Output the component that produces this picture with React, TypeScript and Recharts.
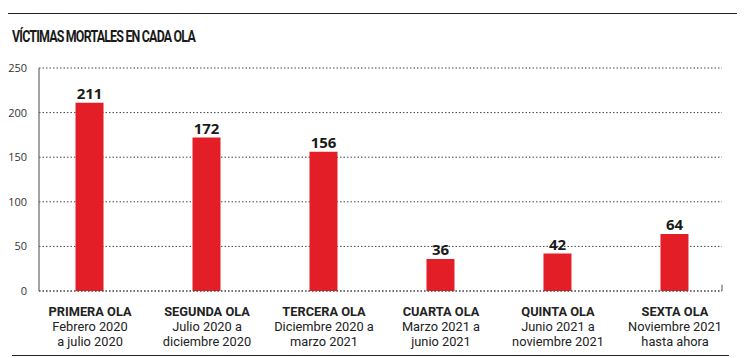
import { BarChart, Bar, XAxis, YAxis, CartesianGrid, LabelList, ReferenceLine } from 'recharts'

const waves = ['PRIMERA OLA', 'SEGUNDA OLA', 'TERCERA OLA', 'CUARTA OLA', 'QUINTA OLA', 'SEXTA OLA']
const periodLine1 = ['Febrero 2020', 'Julio 2020 a', 'Diciembre 2020 a', 'Marzo 2021 a', 'Junio 2021 a', 'Noviembre 2021']
const periodLine2 = ['a julio 2020', 'diciembre 2020', 'marzo 2021', 'junio 2021', 'noviembre 2021', 'hasta ahora']
const deaths = [211, 172, 156, 36, 42, 64]
const yTicks = [0, 50, 100, 150, 200, 250]

const data = waves.map((w, i) => ({ idx: i, wave: w, deaths: deaths[i] }))

const FONT = '"Open Sans", "Noto Sans", sans-serif'
const LABEL_FONT = 'Roboto, "Open Sans", sans-serif'
const X_MIN = -0.436
const X_MAX = 5.402

function WaveTick(props: any) {
  const { x, y, payload } = props
  const i = payload.value as number
  const common = { textAnchor: 'middle' as const, fontFamily: LABEL_FONT, fill: '#222', fontSize: 12.8 }
  return (
    <g transform={`translate(${x},${y})`}>
      <text {...common} x={0} y={17} fontWeight={700}>{waves[i]}</text>
      <text {...common} x={0} y={32}>{periodLine1[i]}</text>
      <text {...common} x={0} y={47}>{periodLine2[i]}</text>
    </g>
  )
}

export default function App() {
  return (
    <div style={{ position: 'absolute', left: 0, top: 0, width: 744, height: 358, background: '#fff' }}>
      <div style={{ position: 'absolute', left: 8, top: 13, width: 729, height: 0, borderTop: '1.5px solid #222' }} />
      <div
        style={{
          position: 'absolute', left: 12, top: 26, fontFamily: LABEL_FONT, fontWeight: 700, fontSize: 17,
          letterSpacing: -1.1, color: '#1a1a1a', whiteSpace: 'nowrap',
          transform: 'scaleX(0.73)', transformOrigin: 'left center',
        }}
      >
        VÍCTIMAS MORTALES EN CADA OLA
      </div>
      <div style={{ position: 'absolute', left: 12, top: 355, width: 717, height: 0, borderTop: '1.5px solid #222' }} />
      <BarChart width={744} height={358} data={data} margin={{ top: 68, right: 22, left: 0, bottom: 7 }}>
        <CartesianGrid vertical={false} stroke="#444" strokeDasharray="1.5 2" />
        <XAxis
          type="number"
          dataKey="idx"
          domain={[X_MIN, X_MAX]}
          ticks={[0, 1, 2, 3, 4, 5]}
          allowDataOverflow
          interval={0}
          tick={<WaveTick />}
          tickLine={false}
          axisLine={{ stroke: '#444', strokeDasharray: '1.5 2' }}
          height={60}
        />
        <YAxis
          domain={[0, 250]}
          ticks={yTicks}
          width={39}
          tickLine={false}
          axisLine={{ stroke: '#666', strokeWidth: 1.2 }}
          tick={{ fontSize: 11, fill: '#333', fontFamily: FONT }}
          tickMargin={6}
        />
        <ReferenceLine segment={[{ x: X_MAX, y: 0 }, { x: X_MAX, y: 7 }]} stroke="#555" />
        <Bar dataKey="deaths" fill="#e41e26" barSize={28} isAnimationActive={false}>
          <LabelList
            dataKey="deaths"
            position="top"
            offset={4}
            style={{ fontSize: 15, fontWeight: 700, fill: '#1a1a1a', fontFamily: FONT }}
          />
        </Bar>
      </BarChart>
    </div>
  )
}
